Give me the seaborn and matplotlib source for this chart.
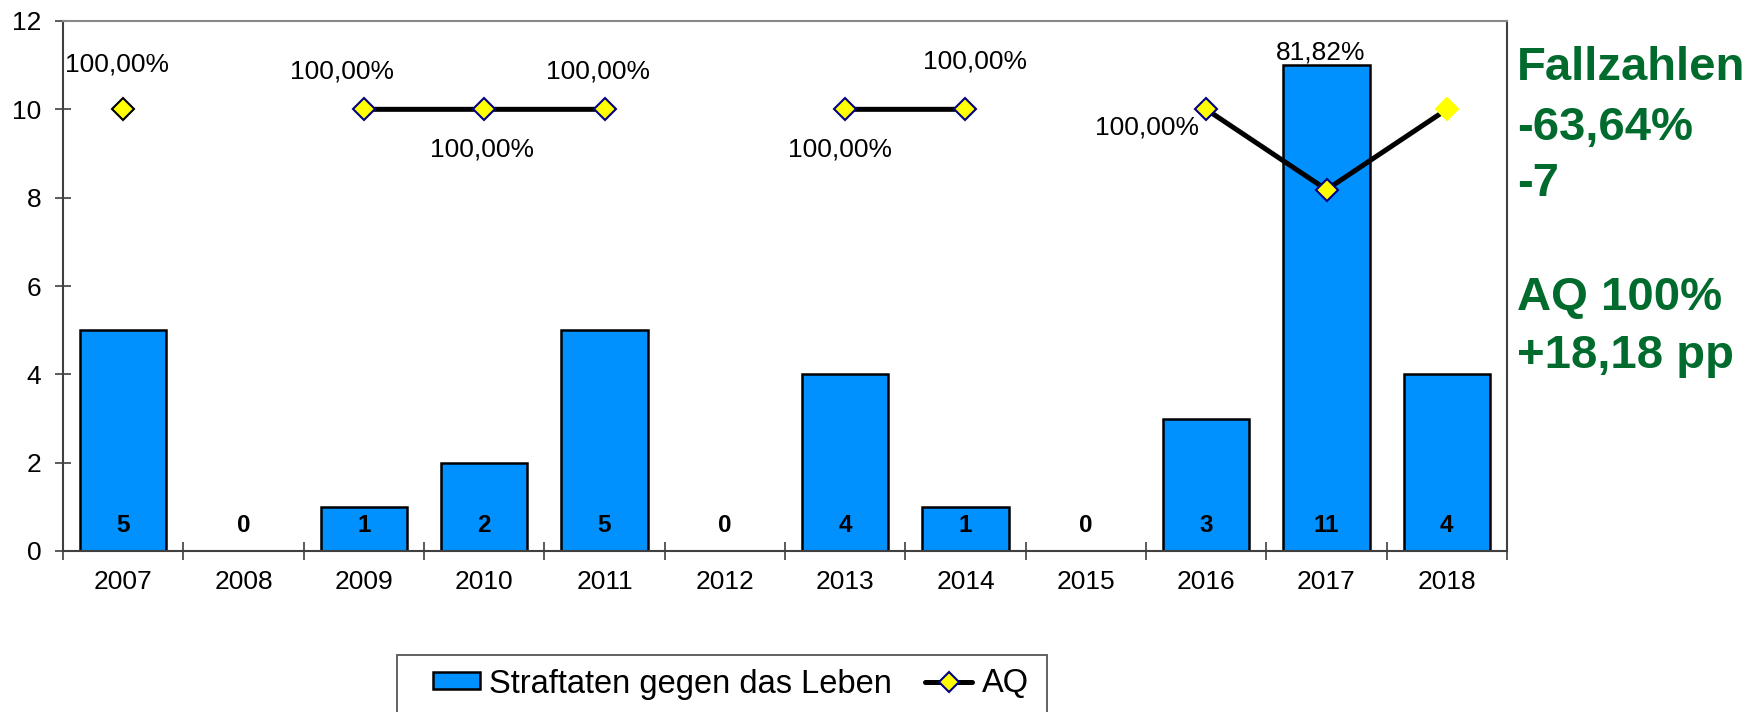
import numpy as np
import pandas as pd
import matplotlib
matplotlib.use("Agg")
import matplotlib.pyplot as plt
import seaborn as sns
from matplotlib.patches import Patch, Rectangle
from matplotlib.lines import Line2D

# ---------------- data ----------------
years = ["2007", "2008", "2009", "2010", "2011", "2012", "2013", "2014", "2015", "2016", "2017", "2018"]
cases = [5, 0, 1, 2, 5, 0, 4, 1, 0, 3, 11, 4]
aq = [100.0, np.nan, 100.0, 100.0, 100.0, np.nan, 100.0, 100.0, np.nan, 100.0, 81.82, 100.0]
aq_label_shown = [True, False, True, True, True, False, True, True, False, True, True, False]
bar_series_name = "Straftaten gegen das Leben"
line_series_name = "AQ"
side_lines = ["Fallzahlen", "-63,64%", "-7", "", "AQ 100%", "+18,18 pp"]

# ---------------- styles / layout ----------------
W, H = 1762, 712
BAR_COLOR = "#0091FF"
GREEN = "#006B2D"
FONT = "Liberation Sans"
# per-point marker edge colours
marker_edges = ["black", "none", "#000080", "#000080", "#000080", "none",
                "#000080", "#000080", "none", "#000080", "#000080", "yellow"]
# label offsets (pixels) relative to each AQ marker
label_offsets = [(-6, 45), (0, 0), (-22, 38), (-2, -40), (-6, 38), (0, 0),
                 (-5, -40), (10, 48), (0, 0), (-59, -18), (-6, 137), (0, 0)]

sns.set_style("white")
plt.rcParams["font.family"] = [FONT, "DejaVu Sans"]
plt.rcParams["text.color"] = "black"

fig = plt.figure(figsize=(W / 100, H / 100), dpi=100)
ax = fig.add_axes([63 / W, 1 - 551 / H, (1507 - 63) / W, (551 - 21) / H])

df = pd.DataFrame({"year": years, "cases": cases})
sns.barplot(data=df, x="year", y="cases", color=BAR_COLOR, edgecolor="black",
            linewidth=1.8, width=0.72, saturation=1, ax=ax)
for p in ax.patches:
    if p.get_height() == 0:
        p.set_linewidth(0)

ax.set_xlim(-0.5, len(years) - 0.5)
ax.set_ylim(0, 12)
ax.set_yticks(np.arange(0, 13, 2))
ax.set_xlabel("")
ax.set_ylabel("")
ax.tick_params(axis="y", direction="inout", length=11, width=1.2, color="#404040",
               labelsize=19, labelcolor="black", pad=10, left=True)
ax.set_xticks(range(len(years)))
ax.set_xticklabels(years)
ax.tick_params(axis="x", which="major", length=0, labelsize=19, labelcolor="black", pad=14)
ax.set_xticks(np.arange(-0.5, len(years), 1.0), minor=True)
ax.tick_params(axis="x", which="minor", direction="inout", length=13, width=1.2,
               color="#404040", bottom=True)
for s in ["left", "bottom", "right"]:
    ax.spines[s].set_color("#404040")
    ax.spines[s].set_linewidth(1.5)
ax.spines["top"].set_color("#888888")
ax.spines["top"].set_linewidth(1.5)
ax.grid(False)

# value labels inside bars
for i, v in enumerate(cases):
    ax.annotate(str(v), (i, 0), xytext=(0, 26), textcoords="offset pixels",
                ha="center", va="center", fontsize=17.5, fontweight="bold", color="black")

# AQ line on a hidden secondary axis (0..120 %)
ax2 = ax.twinx()
ax2.set_ylim(0, 120)
ax2.axis("off")
xs = np.arange(len(years))
ax2.plot(xs, aq, color="black", lw=3.6, zorder=3)
for i, v in enumerate(aq):
    if np.isnan(v):
        continue
    ax2.plot([i], [v], marker="D", ms=11, mfc="yellow", mec=marker_edges[i],
             mew=1.5, ls="none", zorder=4)
    if aq_label_shown[i]:
        txt = f"{v:.2f}%".replace(".", ",")
        dx, dy = label_offsets[i]
        ax2.annotate(txt, (i, v), xytext=(dx, dy), textcoords="offset pixels",
                     ha="center", va="center", fontsize=19, color="black", zorder=5)

# side text
ys = [68, 128, 184, 241, 298, 356]
for t, y in zip(side_lines, ys):
    if t:
        fig.text(1517 / W, 1 - y / H, t, ha="left", va="center", fontsize=34,
                 fontweight="bold", color=GREEN)

# legend
handles = [Patch(facecolor=BAR_COLOR, edgecolor="black", linewidth=1.8),
           Line2D([], [], color="black", lw=3.6, marker="D", ms=10,
                  mfc="yellow", mec="#000080", mew=1.5)]
leg = fig.legend(handles, [bar_series_name, line_series_name], loc="center left",
                 bbox_to_anchor=(433 / W, 1 - 684 / H), ncol=2, frameon=False,
                 fontsize=23.5, handlelength=1.45, handleheight=0.42, handletextpad=0.28,
                 columnspacing=1.0, borderpad=0, borderaxespad=0)
for t in leg.get_texts():
    t.set_color("black")
fig.patches.append(Rectangle((397 / W, -0.05), (1047 - 397) / W, 0.05 + (1 - 655 / H),
                             transform=fig.transFigure, fill=False,
                             edgecolor="#555555", linewidth=1.3))

fig.savefig("out.png", dpi=100)
